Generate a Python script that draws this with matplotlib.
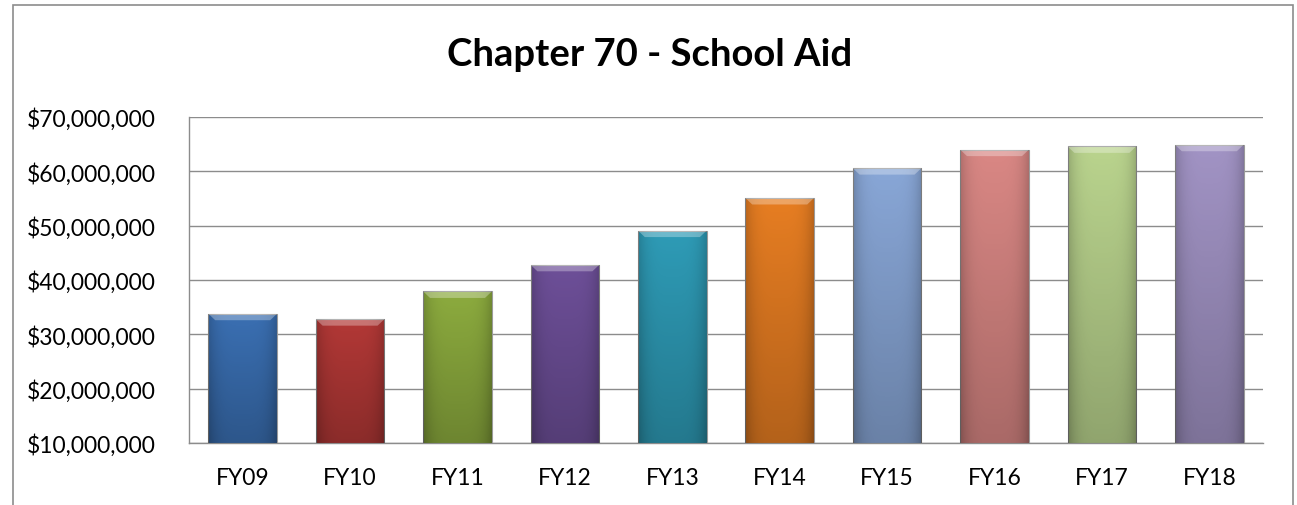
import matplotlib
matplotlib.use("Agg")
import matplotlib.pyplot as plt
import numpy as np
from matplotlib.ticker import FuncFormatter, MultipleLocator
from matplotlib.patches import Rectangle, Polygon

categories = ["FY09", "FY10", "FY11", "FY12", "FY13", "FY14", "FY15", "FY16", "FY17", "FY18"]
values = [33.8e6, 32.8e6, 37.9e6, 42.8e6, 49.1e6, 55.1e6, 60.6e6, 64.0e6, 64.6e6, 64.9e6]
colors = ["#3a6fb2", "#b23836", "#8cab3e", "#6d4f98", "#2e9bb6", "#e67d22",
          "#88a6d6", "#d98784", "#b9d38d", "#a193c4"]
title = "Chapter 70 - School Aid"

plt.rcParams['font.family'] = ['Lato', 'DejaVu Sans']

fig = plt.figure(figsize=(12.97, 5.06), dpi=100)
ax = fig.add_axes([189/1297, 1 - 444/506, (1263-189)/1297, (444-118)/506])

ymin, ymax = 10e6, 70e6
x = np.arange(len(categories))
bars = ax.bar(x, [v - ymin for v in values], bottom=ymin, width=0.64, color=colors,
              edgecolor="#9a9a9a", linewidth=0.8, zorder=3)

# shading for a bevelled look
for b, c in zip(bars, colors):
    x0, y0 = b.get_x(), b.get_y()
    w, h = b.get_width(), b.get_height()
    grad = np.linspace(0, 1, 50).reshape(-1, 1)
    hgrad = (np.abs(np.linspace(-1, 1, 50)) ** 4).reshape(1, -1)
    alpha = 0.22 * grad + 0.18 * hgrad
    img = np.zeros((50, 50, 4))
    img[..., 3] = alpha
    im = ax.imshow(img, extent=(x0, x0 + w, y0, y0 + h), origin="upper",
                   aspect="auto", zorder=4, interpolation="bilinear")
    im.set_clip_path(b)
    bev = 1.2e6
    top = y0 + h
    inset = w * 0.1
    ax.add_patch(Polygon([(x0, top), (x0 + w, top), (x0 + w - inset, top - bev),
                          (x0 + inset, top - bev)], closed=True,
                         facecolor="white", alpha=0.3, edgecolor="none", zorder=5))

ax.set_xlim(-0.5, len(categories) - 0.5)
ax.set_ylim(ymin, ymax)
ax.yaxis.set_major_locator(MultipleLocator(10e6))
ax.yaxis.set_major_formatter(FuncFormatter(lambda v, p: f"${v:,.0f}"))
ax.set_xticks(x)
ax.set_xticklabels(categories)
ax.tick_params(axis="both", length=0, labelsize=16.5, colors="black")
ax.tick_params(axis="x", pad=17)
ax.tick_params(axis="y", pad=24)
ax.grid(axis="y", color="#8c8c8c", linewidth=1.0, zorder=0)
ax.set_axisbelow(True)
for s in ["top", "right"]:
    ax.spines[s].set_visible(False)
for s in ["left", "bottom"]:
    ax.spines[s].set_color("#8c8c8c")
    ax.spines[s].set_linewidth(1.0)

fig.text(650/1297, 1 - 66/506, title, ha="center", va="baseline",
         fontsize=27.5, fontweight="bold")

# outer chart frame
fig.add_artist(Rectangle((13/1297, -0.05), (1293-13)/1297, 1 - 6/506 + 0.05,
                         transform=fig.transFigure, fill=False,
                         edgecolor="#8c8c8c", linewidth=1.2))

fig.savefig("out.png", dpi=100)
